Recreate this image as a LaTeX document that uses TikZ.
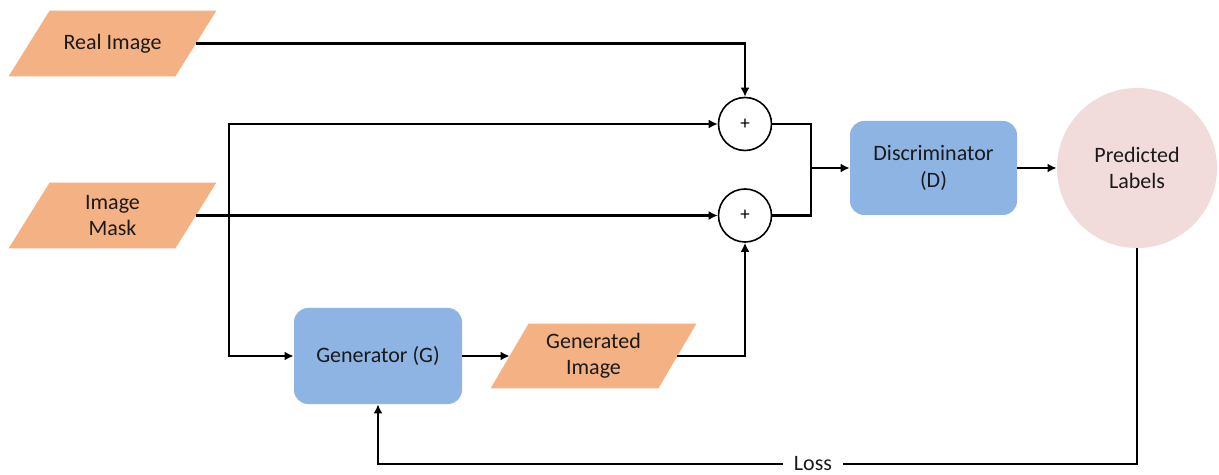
\documentclass[tikz,border=0pt]{standalone}
\usepackage{fontspec}
\setmainfont{Carlito}
\usetikzlibrary{arrows.meta,backgrounds}
\definecolor{dataorange}{HTML}{F4B183}
\definecolor{netblue}{HTML}{8EB4E3}
\definecolor{labelpink}{HTML}{F2DCDB}
\definecolor{ink}{HTML}{1A1A1A}
\tikzset{
  data/.style={minimum width=83pt, minimum height=32.5pt, inner sep=0pt, align=center, text=ink},
  net/.style={fill=netblue, rounded corners=7pt, align=center, text=ink, inner sep=0pt},
  summer/.style={circle, draw=black, line width=0.8pt, minimum size=26.5pt, inner sep=0pt,
                 font=\fontsize{9.5}{10}\selectfont},
  flow/.style={line width=1.25pt, -{Latex[length=4.5pt,width=4.5pt]}},
  wire/.style={line width=1.25pt},
}
\begin{document}
\begin{tikzpicture}[x=0.5pt,y=-0.5pt,font=\fontsize{11}{13.2}\selectfont]
\useasboundingbox (0,0) rectangle (1219,475);

% inputs and outputs (parallelogram bodies are filled on the background layer)
\node[data] (real)   at (112.5,43.5)  {Real Image};
\node[data] (mask)   at (112.5,215.5) {Image\\Mask};
\node[data, minimum width=83.5pt, minimum height=32pt] (genimg) at (593.5,356) {Generated\\Image};

% networks
\node[net, minimum width=84pt, minimum height=48pt] (gen)  at (378,356)   {Generator (G)};
\node[net, minimum width=83.5pt, minimum height=47pt] (disc) at (933.5,168) {Discriminator\\(D)};
\node[circle, fill=labelpink, minimum size=80pt, inner sep=0pt, align=center, text=ink]
      (pred) at (1137,168) {Predicted\\Labels};

% summing junctions
\node[summer] (plus1) at (745,124)   {+};
\node[summer] (plus2) at (745,215.5) {+};

\begin{pgfonlayer}{background}
  \foreach \n/\s in {real/10.25, mask/10.25, genimg/9.5}{
    \fill[dataorange] ([xshift=-\s pt]\n.south west) -- ([xshift=-\s pt]\n.south east)
      -- ([xshift=\s pt]\n.north east) -- ([xshift=\s pt]\n.north west) -- cycle;
  }
\end{pgfonlayer}

% connectors
\coordinate (split) at (229,215.5);
\coordinate (merge) at (811,168);
\draw[flow] (real.east) -| (plus1.north);
\draw[flow] (mask.east) -- (plus2.west);
\draw[flow] (split) |- (plus1.west);
\draw[flow] (split) |- (gen.west);
\draw[flow] (gen.east) -- (genimg.west);
\draw[flow] (genimg.east) -| (plus2.south);
\draw[wire] (plus1.east) -| (merge);
\draw[wire] (plus2.east) -| (merge);
\draw[flow] (merge) -- (disc.west);
\draw[flow] (disc.east) -- (pred.west);

% feedback loss
\coordinate (lossR) at (1137,464);
\coordinate (lossL) at (378,464);
\draw[flow] (pred.south) -- (lossR) -- (lossL) -- (gen.south);
\node[fill=white, inner xsep=5.5pt, inner ysep=1pt, text=ink] (loss) at (813,464) {Loss};
\end{tikzpicture}
\end{document}
